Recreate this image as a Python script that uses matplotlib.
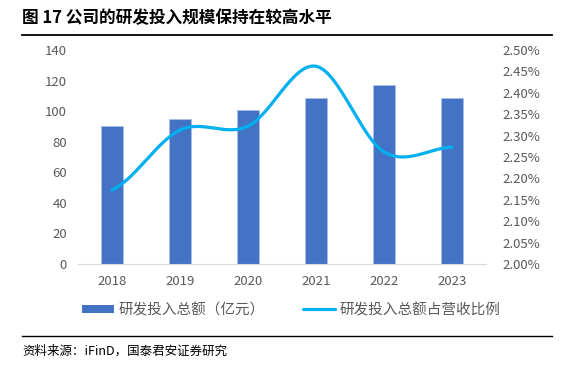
import numpy as np
import matplotlib.pyplot as plt
from matplotlib.lines import Line2D
from matplotlib.patches import Patch

plt.rcParams['font.family'] = ['Noto Sans CJK SC', 'DejaVu Sans']

years = ['2018', '2019', '2020', '2021', '2022', '2023']
rd_amount = [90.5, 94.6, 100.7, 108.8, 116.9, 108.8]      # 亿元
rd_ratio = [2.173, 2.313, 2.322, 2.462, 2.262, 2.273]     # %

bar_color = '#4472C4'
line_color = '#00B0F0'
grey = '#595959'


def smooth(xs, ys, n=30):
    # catmull-rom, close to excel's smoothed line
    xs = np.asarray(xs, float)
    ys = np.asarray(ys, float)
    px = np.concatenate([[2*xs[0]-xs[1]], xs, [2*xs[-1]-xs[-2]]])
    py = np.concatenate([[ys[0]], ys, [ys[-1]]])
    outx, outy = [], []
    for i in range(1, len(px)-2):
        t = np.linspace(0, 1, n)
        for p, out in ((px, outx), (py, outy)):
            p0, p1, p2, p3 = p[i-1], p[i], p[i+1], p[i+2]
            out.extend(0.5*((2*p1) + (-p0+p2)*t + (2*p0-5*p1+4*p2-p3)*t**2
                            + (-p0+3*p1-3*p2+p3)*t**3))
    return np.array(outx), np.array(outy)


fig = plt.figure(figsize=(5.62, 3.74), dpi=100)
ax = fig.add_axes([78/562, 1-264/374, (486-78)/562, (264-50)/374])
x = np.arange(len(years))
ax.bar(x, rd_amount, width=0.32, color=bar_color, edgecolor='#a9bfe6', linewidth=0.6, zorder=2)
ax.set_xlim(-0.5, 5.5)
ax.set_ylim(0, 140)
ax.set_yticks(range(0, 141, 20))
ax.set_xticks(x)
ax.set_xticklabels(years)
for s in ['top', 'right', 'left']:
    ax.spines[s].set_visible(False)
ax.spines['bottom'].set_color('#d9d9d9')
ax.tick_params(axis='both', length=0, colors=grey, labelsize=9.5)
ax.tick_params(axis='x', pad=8)
ax.tick_params(axis='y', pad=8)

ax2 = ax.twinx()
sx, sy = smooth(x, rd_ratio)
ax2.plot(sx, sy, color=line_color, lw=2.3, solid_capstyle='round', zorder=3)
ax2.set_ylim(2.0, 2.5)
ax2.set_yticks(np.arange(2.0, 2.501, 0.05))
ax2.set_yticklabels(['%.2f%%' % v for v in np.arange(2.0, 2.501, 0.05)])
for s in ax2.spines.values():
    s.set_visible(False)
ax2.tick_params(axis='y', length=0, colors=grey, labelsize=9.5, pad=12)

handles = [Patch(facecolor=bar_color, edgecolor='none'),
           Line2D([], [], color=line_color, lw=2.3, solid_capstyle='round')]
fig.legend(handles, ['研发投入总额（亿元）', '研发投入总额占营收比例'], ncol=2,
           loc='center', bbox_to_anchor=(0.518, 1-310/374), frameon=False,
           fontsize=10.5, labelcolor=grey, handlelength=2.2, handleheight=0.5,
           columnspacing=2.6, handletextpad=0.3)

fig.text(22/562, 1-18/374, '图 17 公司的研发投入规模保持在较高水平', fontsize=12,
         fontweight='bold', va='center', ha='left')
fig.add_artist(Line2D([22/562, 552/562], [1-35/374, 1-35/374], color='black', lw=1.3))
fig.add_artist(Line2D([22/562, 552/562], [1-336/374, 1-336/374], color='black', lw=1.0))
fig.text(22/562, 1-351/374, '资料来源：iFinD，国泰君安证券研究', fontsize=9,
         va='center', ha='left')

fig.savefig('out.png', dpi=100)
